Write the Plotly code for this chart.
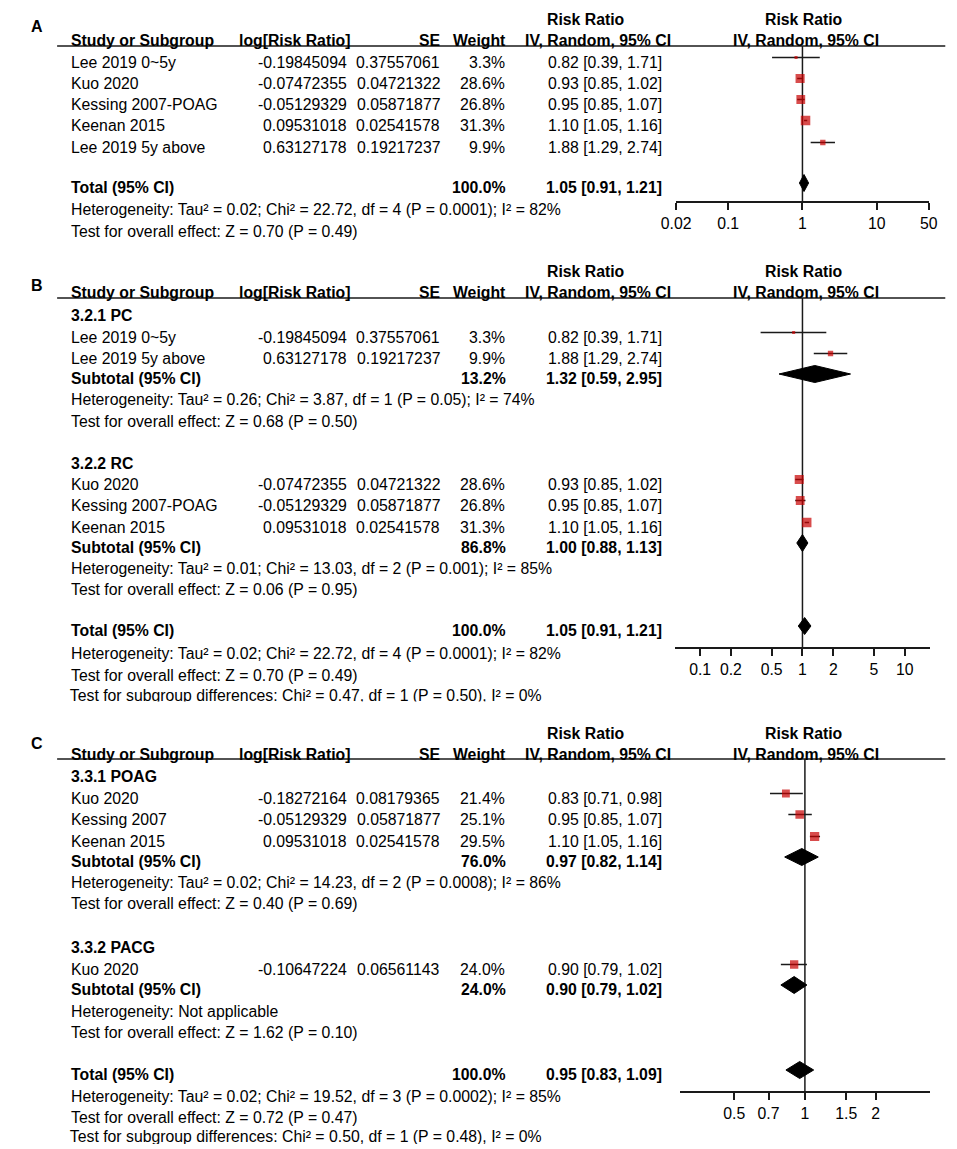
import math
import plotly.graph_objects as go

W, H = 957, 1149
OX, OY = 8, 8          # page body offset of the figure inside the browser window
FONT = "Liberation Sans, Arial, Helvetica, sans-serif"
FS = 15.8
RED = "#C80000"
INK = "#1a1a1a"

# ---------------- Panel A data ----------------
A_studies = ["Lee 2019 0~5y", "Kuo 2020", "Kessing 2007-POAG", "Keenan 2015", "Lee 2019 5y above"]
A_logrr = ["-0.19845094", "-0.07472355", "-0.05129329", "0.09531018", "0.63127178"]
A_se = ["0.37557061", "0.04721322", "0.05871877", "0.02541578", "0.19217237"]
A_weight = [3.3, 28.6, 26.8, 31.3, 9.9]
A_rr = [0.82, 0.93, 0.95, 1.10, 1.88]
A_lo = [0.39, 0.85, 0.85, 1.05, 1.29]
A_hi = [1.71, 1.02, 1.07, 1.16, 2.74]
A_total = [100.0, 1.05, 0.91, 1.21]
A_total_het = "Heterogeneity: Tau² = 0.02; Chi² = 22.72, df = 4 (P = 0.0001); I² = 82%"
A_total_test = "Test for overall effect: Z = 0.70 (P = 0.49)"
A_axis_limits = [0.02, 50]
A_ticks = [0.02, 0.1, 1, 10, 50]
A_ticklabels = ["0.02", "0.1", "1", "10", "50"]

# ---------------- Panel B data ----------------
B_g1_name = "3.2.1 PC"
B_g1_studies = ["Lee 2019 0~5y", "Lee 2019 5y above"]
B_g1_logrr = ["-0.19845094", "0.63127178"]
B_g1_se = ["0.37557061", "0.19217237"]
B_g1_weight = [3.3, 9.9]
B_g1_rr = [0.82, 1.88]
B_g1_lo = [0.39, 1.29]
B_g1_hi = [1.71, 2.74]
B_g1_sub = [13.2, 1.32, 0.59, 2.95]
B_g1_het = "Heterogeneity: Tau² = 0.26; Chi² = 3.87, df = 1 (P = 0.05); I² = 74%"
B_g1_test = "Test for overall effect: Z = 0.68 (P = 0.50)"

B_g2_name = "3.2.2 RC"
B_g2_studies = ["Kuo 2020", "Kessing 2007-POAG", "Keenan 2015"]
B_g2_logrr = ["-0.07472355", "-0.05129329", "0.09531018"]
B_g2_se = ["0.04721322", "0.05871877", "0.02541578"]
B_g2_weight = [28.6, 26.8, 31.3]
B_g2_rr = [0.93, 0.95, 1.10]
B_g2_lo = [0.85, 0.85, 1.05]
B_g2_hi = [1.02, 1.07, 1.16]
B_g2_sub = [86.8, 1.00, 0.88, 1.13]
B_g2_het = "Heterogeneity: Tau² = 0.01; Chi² = 13.03, df = 2 (P = 0.001); I² = 85%"
B_g2_test = "Test for overall effect: Z = 0.06 (P = 0.95)"

B_total = [100.0, 1.05, 0.91, 1.21]
B_total_het = "Heterogeneity: Tau² = 0.02; Chi² = 22.72, df = 4 (P = 0.0001); I² = 82%"
B_total_test = "Test for overall effect: Z = 0.70 (P = 0.49)"
B_subgroup_test = "Test for subgroup differences: Chi² = 0.47, df = 1 (P = 0.50), I² = 0%"
B_axis_limits = [0.0571, 17.5]
B_ticks = [0.1, 0.2, 0.5, 1, 2, 5, 10]
B_ticklabels = ["0.1", "0.2", "0.5", "1", "2", "5", "10"]

# ---------------- Panel C data ----------------
C_g1_name = "3.3.1 POAG"
C_g1_studies = ["Kuo 2020", "Kessing 2007", "Keenan 2015"]
C_g1_logrr = ["-0.18272164", "-0.05129329", "0.09531018"]
C_g1_se = ["0.08179365", "0.05871877", "0.02541578"]
C_g1_weight = [21.4, 25.1, 29.5]
C_g1_rr = [0.83, 0.95, 1.10]
C_g1_lo = [0.71, 0.85, 1.05]
C_g1_hi = [0.98, 1.07, 1.16]
C_g1_sub = [76.0, 0.97, 0.82, 1.14]
C_g1_het = "Heterogeneity: Tau² = 0.02; Chi² = 14.23, df = 2 (P = 0.0008); I² = 86%"
C_g1_test = "Test for overall effect: Z = 0.40 (P = 0.69)"

C_g2_name = "3.3.2 PACG"
C_g2_studies = ["Kuo 2020"]
C_g2_logrr = ["-0.10647224"]
C_g2_se = ["0.06561143"]
C_g2_weight = [24.0]
C_g2_rr = [0.90]
C_g2_lo = [0.79]
C_g2_hi = [1.02]
C_g2_sub = [24.0, 0.90, 0.79, 1.02]
C_g2_het = "Heterogeneity: Not applicable"
C_g2_test = "Test for overall effect: Z = 1.62 (P = 0.10)"

C_total = [100.0, 0.95, 0.83, 1.09]
C_total_het = "Heterogeneity: Tau² = 0.02; Chi² = 19.52, df = 3 (P = 0.0002); I² = 85%"
C_total_test = "Test for overall effect: Z = 0.72 (P = 0.47)"
C_subgroup_test = "Test for subgroup differences: Chi² = 0.50, df = 1 (P = 0.48), I² = 0%"
C_axis_limits = [0.294, 3.4]
C_ticks = [0.5, 0.7, 1, 1.5, 2]
C_ticklabels = ["0.5", "0.7", "1", "1.5", "2"]

# ---------------- drawing helpers ----------------
fig = go.Figure()
ann, shapes = [], []
MARK_DY = -4.5
COL_NAME, COL_LOG, COL_SE, COL_W, COL_CI = 57, 340, 436, 502, 663


def text(x, y, s, anchor="left", bold=False, size=FS):
    ann.append(dict(x=x, y=y, xref="x", yref="y", text=f"<b>{s}</b>" if bold else s,
                    showarrow=False, xanchor=anchor, yanchor="middle", borderpad=0, borderwidth=0,
                    font=dict(family=FONT, size=size, color="black")))


def ci_text(rr, lo, hi):
    return f"{rr:.2f} [{lo:.2f}, {hi:.2f}]"


def header(letter, letter_y, y2, rule_y, axref, vline_bottom):
    text(22, letter_y, letter, "center", True, 16)
    text(585, y2 - 21, "Risk Ratio", "center", True)
    text(809, y2 - 21, "Risk Ratio", "center", True)
    text(COL_NAME, y2, "Study or Subgroup", "left", True)
    text(343, y2, "log[Risk Ratio]", "right", True)
    text(436, y2, "SE", "right", True)
    text(503, y2, "Weight", "right", True)
    text(523, y2, "IV, Random, 95% CI", "left", True)
    text(811, y2, "IV, Random, 95% CI", "center", True)
    shapes.append(dict(type="line", xref="x", yref="y", x0=43, x1=954, y0=rule_y, y1=rule_y,
                       line=dict(color=INK, width=1.5)))
    fig.add_trace(go.Scatter(x=[1, 1], y=[rule_y, vline_bottom], xaxis=axref, yaxis="y",
                             mode="lines", line=dict(color=INK, width=1.5),
                             hoverinfo="skip", showlegend=False))


def studies(names, logs, ses, ws, rrs, los, his, ys, axref):
    for n, lg, se, w, rr, lo, hi, y in zip(names, logs, ses, ws, rrs, los, his, ys):
        text(COL_NAME, y, n)
        text(COL_LOG, y, lg, "right")
        text(COL_SE, y, se, "right")
        text(COL_W, y, f"{w:.1f}%", "right")
        text(COL_CI, y, ci_text(rr, lo, hi), "right")
    xs, yy = [], []
    for lo, hi, y in zip(los, his, ys):
        xs += [lo, hi, None]
        yy += [y + MARK_DY, y + MARK_DY, None]
    fig.add_trace(go.Scatter(x=xs, y=yy, xaxis=axref, yaxis="y", mode="lines",
                             line=dict(color=INK, width=1.5), hoverinfo="skip", showlegend=False))
    fig.add_trace(go.Scatter(x=rrs, y=[y + MARK_DY for y in ys], xaxis=axref, yaxis="y",
                             mode="markers",
                             marker=dict(symbol="square", size=[1.7 * math.sqrt(w) for w in ws],
                                         color=RED, line=dict(width=0)),
                             hoverinfo="skip", showlegend=False))


def summary(label, vals, y, axref):
    w, rr, lo, hi = vals
    text(COL_NAME, y, label, "left", True)
    text(COL_W + 1, y, f"{w:.1f}%", "right", True)
    text(COL_CI, y, ci_text(rr, lo, hi), "right", True)
    yc = y + MARK_DY + 0.5
    fig.add_trace(go.Scatter(x=[lo, rr, hi, rr, lo], y=[yc, yc - 8.5, yc, yc + 8.5, yc],
                             xaxis=axref, yaxis="y", mode="lines", fill="toself",
                             fillcolor="black", line=dict(color="black", width=1),
                             hoverinfo="skip", showlegend=False))


def clipped_line(s, y):
    fig.add_trace(go.Scatter(x=[COL_NAME - 1], y=[y], xaxis="x", yaxis="y", mode="text",
                             text=[s], textposition="middle right",
                             textfont=dict(family=FONT, size=FS, color="black"),
                             hoverinfo="skip", showlegend=False))


axes = {}


def forest_axis(name, x0px, x1px, limits, axis_y, tickvals, ticktext):
    axes[name] = dict(type="log", domain=[(x0px - OX) / W, (x1px - OX) / W],
                      range=[math.log10(limits[0]), math.log10(limits[1])],
                      anchor="free", position=1 - (axis_y - OY) / H,
                      showline=True, linecolor=INK, linewidth=1.5,
                      ticks="outside", ticklen=7, tickwidth=1.5, tickcolor=INK,
                      tickmode="array", tickvals=tickvals, ticktext=ticktext,
                      tickfont=dict(family=FONT, size=FS, color="black"),
                      showgrid=False, zeroline=False, fixedrange=True)


# ---------------- Panel A ----------------
header("A", 26, 40, 46, "x2", 202)
studies(A_studies, A_logrr, A_se, A_weight, A_rr, A_lo, A_hi, [62, 83, 104, 125, 147], "x2")
summary("Total (95% CI)", A_total, 187, "x2")
text(COL_NAME, 209, A_total_het)
text(COL_NAME, 231, A_total_test)
forest_axis("xaxis2", 678, 937, A_axis_limits, 202, A_ticks, A_ticklabels)

# ---------------- Panel B ----------------
header("B", 285, 292, 298, "x3", 648)
text(COL_NAME, 315, B_g1_name, "left", True)
studies(B_g1_studies, B_g1_logrr, B_g1_se, B_g1_weight, B_g1_rr, B_g1_lo, B_g1_hi, [337, 358], "x3")
summary("Subtotal (95% CI)", B_g1_sub, 378, "x3")
text(COL_NAME, 399, B_g1_het)
text(COL_NAME, 421, B_g1_test)
text(COL_NAME, 463, B_g2_name, "left", True)
studies(B_g2_studies, B_g2_logrr, B_g2_se, B_g2_weight, B_g2_rr, B_g2_lo, B_g2_hi, [484, 505, 527], "x3")
summary("Subtotal (95% CI)", B_g2_sub, 547, "x3")
text(COL_NAME, 568, B_g2_het)
text(COL_NAME, 589, B_g2_test)
summary("Total (95% CI)", B_total, 630, "x3")
text(COL_NAME, 653, B_total_het)
text(COL_NAME, 675, B_total_test)
clipped_line(B_subgroup_test, 697)
shapes.append(dict(type="rect", xref="x", yref="y", x0=OX, x1=W + OX, y0=701.5, y1=714,
                   fillcolor="white", line=dict(width=0), layer="above"))
forest_axis("xaxis3", 677, 938, B_axis_limits, 648, B_ticks, B_ticklabels)

# ---------------- Panel C ----------------
header("C", 743, 754, 759, "x4", 1092)
text(COL_NAME, 776, C_g1_name, "left", True)
studies(C_g1_studies, C_g1_logrr, C_g1_se, C_g1_weight, C_g1_rr, C_g1_lo, C_g1_hi, [798, 819, 841], "x4")
summary("Subtotal (95% CI)", C_g1_sub, 861, "x4")
text(COL_NAME, 882, C_g1_het)
text(COL_NAME, 903, C_g1_test)
text(COL_NAME, 947, C_g2_name, "left", True)
studies(C_g2_studies, C_g2_logrr, C_g2_se, C_g2_weight, C_g2_rr, C_g2_lo, C_g2_hi, [969], "x4")
summary("Subtotal (95% CI)", C_g2_sub, 989, "x4")
text(COL_NAME, 1011, C_g2_het)
text(COL_NAME, 1032, C_g2_test)
summary("Total (95% CI)", C_total, 1074, "x4")
text(COL_NAME, 1096, C_total_het)
text(COL_NAME, 1117, C_total_test)
clipped_line(C_subgroup_test, 1138)
shapes.append(dict(type="rect", xref="x", yref="y", x0=OX, x1=W + OX, y0=1144, y1=H + OY,
                   fillcolor="white", line=dict(width=0), layer="above"))
forest_axis("xaxis4", 682, 938, C_axis_limits, 1092, C_ticks, C_ticklabels)

fig.update_layout(
    width=W, height=H, margin=dict(l=0, r=0, t=0, b=0),
    paper_bgcolor="white", plot_bgcolor="rgba(0,0,0,0)",
    showlegend=False,
    xaxis=dict(range=[OX, W + OX], domain=[0, 1], visible=False, fixedrange=True),
    yaxis=dict(range=[H + OY, OY], domain=[0, 1], visible=False, fixedrange=True),
    annotations=ann, shapes=shapes,
    font=dict(family=FONT, size=FS, color="black"),
    **axes,
)

fig.write_html("out.html")
